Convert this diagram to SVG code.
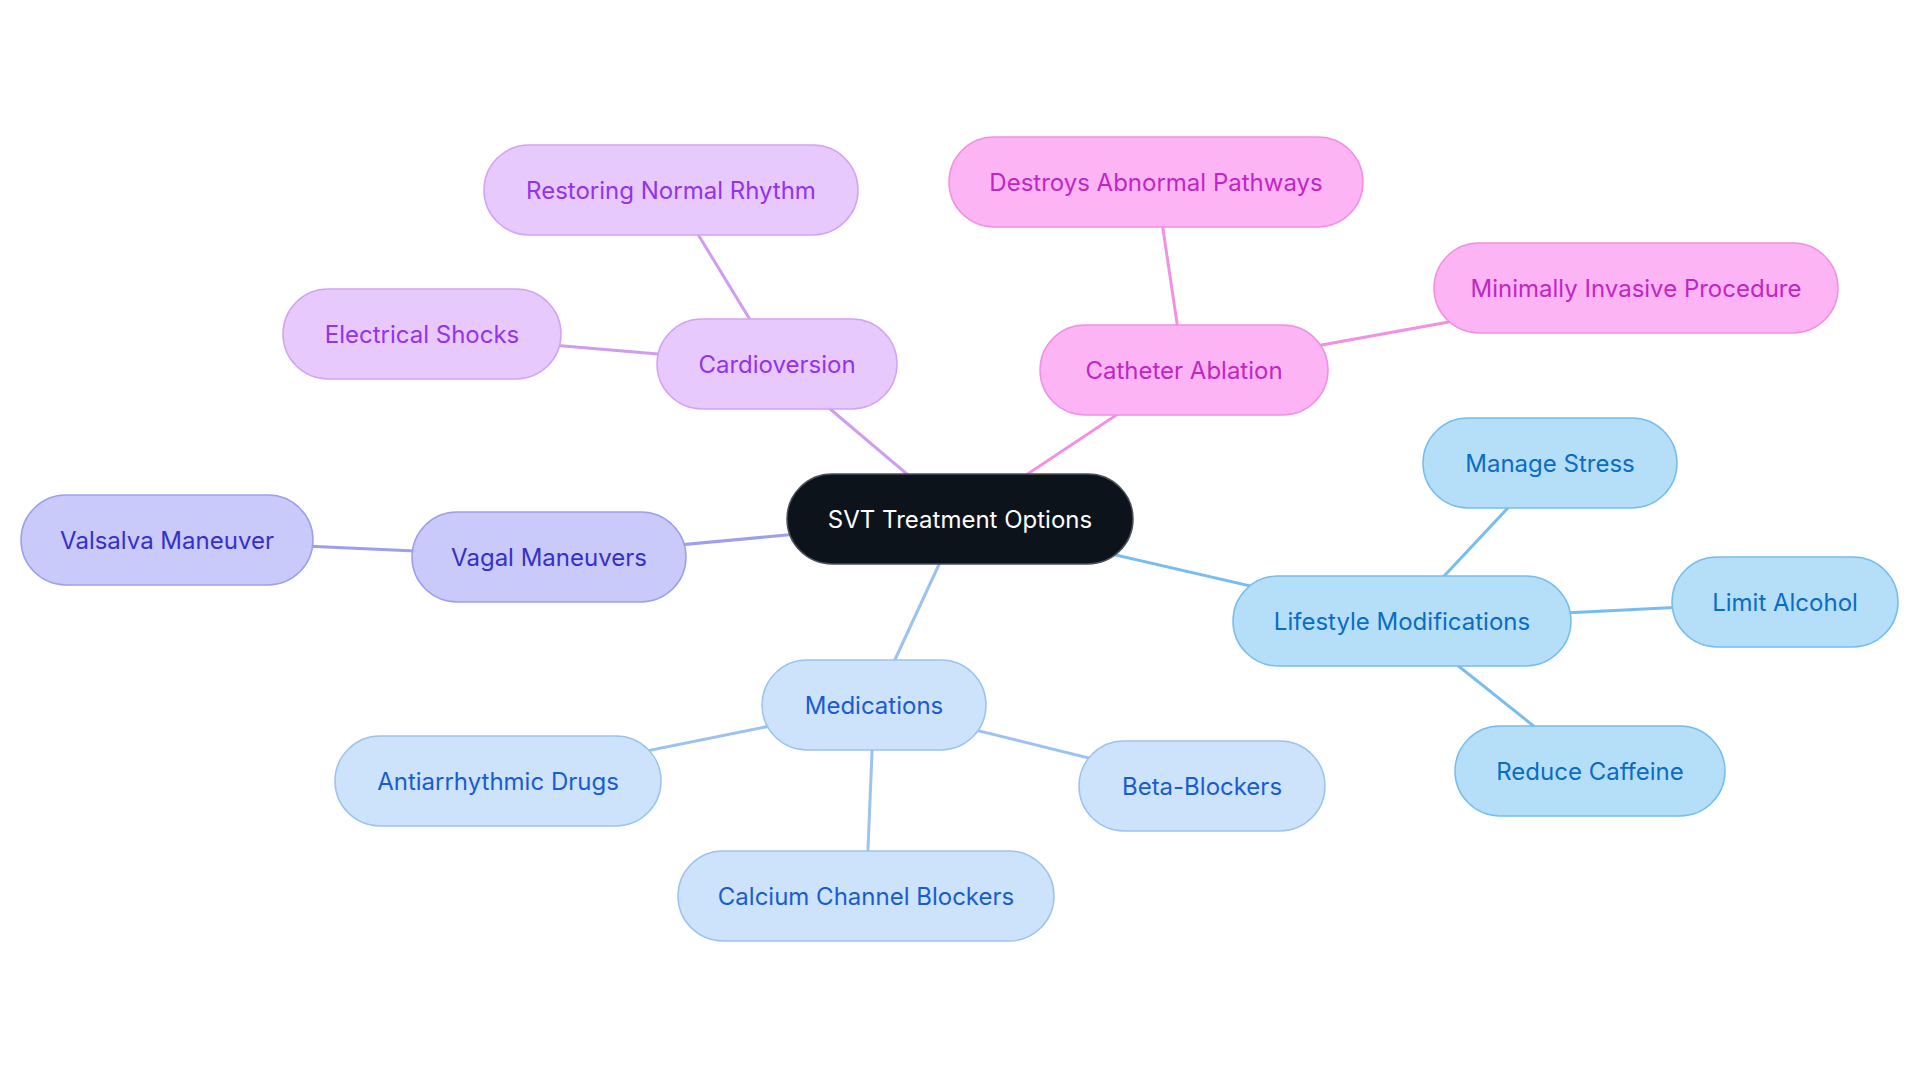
<svg xmlns="http://www.w3.org/2000/svg" width="1920" height="1083" viewBox="0 0 1920 1083">
<style>
text{font-family:Inter,"Noto Sans","Liberation Sans",sans-serif;font-size:24px;text-anchor:middle;dominant-baseline:central}
.e{stroke-width:3;fill:none}
.root rect{fill:#0d131b;stroke:#4a5058;stroke-width:1.5}
.root text{fill:#ffffff}
.pu rect{fill:#e8c9fd;stroke:#d3a2f4;stroke-width:1.5}
.pu text{fill:#9333ea}
.pk rect{fill:#fdb4f4;stroke:#f090e3;stroke-width:1.5}
.pk text{fill:#c026c3}
.in rect{fill:#c9caf9;stroke:#9d9ef0;stroke-width:1.5}
.in text{fill:#3730c8}
.bl rect{fill:#cde3fb;stroke:#9cc3f0;stroke-width:1.5}
.bl text{fill:#1a5ccf}
.sk rect{fill:#b5def9;stroke:#77bdee;stroke-width:1.5}
.sk text{fill:#0b6cc4}
</style>
<rect width="1920" height="1083" fill="#ffffff"/>
<g id="connectors">
<line class="e" stroke="#cf9cf2" x1="960" y1="519" x2="777" y2="364"/>
<line class="e" stroke="#cf9cf2" x1="777" y1="364" x2="671" y2="190"/>
<line class="e" stroke="#cf9cf2" x1="777" y1="364" x2="422" y2="334"/>
<line class="e" stroke="#f092e4" x1="960" y1="519" x2="1184" y2="370"/>
<line class="e" stroke="#f092e4" x1="1184" y1="370" x2="1156" y2="182"/>
<line class="e" stroke="#f092e4" x1="1184" y1="370" x2="1636" y2="288"/>
<line class="e" stroke="#9d9ef0" x1="960" y1="519" x2="549" y2="557"/>
<line class="e" stroke="#9d9ef0" x1="549" y1="557" x2="167" y2="540"/>
<line class="e" stroke="#9cc3f0" x1="960" y1="519" x2="874" y2="705"/>
<line class="e" stroke="#9cc3f0" x1="874" y1="705" x2="498" y2="781"/>
<line class="e" stroke="#9cc3f0" x1="874" y1="705" x2="866" y2="896"/>
<line class="e" stroke="#9cc3f0" x1="874" y1="705" x2="1202" y2="786"/>
<line class="e" stroke="#77bdee" x1="960" y1="519" x2="1402" y2="621"/>
<line class="e" stroke="#77bdee" x1="1402" y1="621" x2="1550" y2="463"/>
<line class="e" stroke="#77bdee" x1="1402" y1="621" x2="1785" y2="602"/>
<line class="e" stroke="#77bdee" x1="1402" y1="621" x2="1590" y2="771"/>
</g>
<g id="root" class="root"><rect x="787" y="474" width="346" height="90" rx="45"/><text x="960" y="519">SVT Treatment Options</text></g>
<g id="cardioversion" class="pu"><rect x="657" y="319" width="240" height="90" rx="45"/><text x="777" y="364">Cardioversion</text></g>
<g id="restoring" class="pu"><rect x="484" y="145" width="374" height="90" rx="45"/><text x="671" y="190">Restoring Normal Rhythm</text></g>
<g id="shocks" class="pu"><rect x="283" y="289" width="278" height="90" rx="45"/><text x="422" y="334">Electrical Shocks</text></g>
<g id="ablation" class="pk"><rect x="1040" y="325" width="288" height="90" rx="45"/><text x="1184" y="370">Catheter Ablation</text></g>
<g id="destroys" class="pk"><rect x="949" y="137" width="414" height="90" rx="45"/><text x="1156" y="182">Destroys Abnormal Pathways</text></g>
<g id="minimally" class="pk"><rect x="1434" y="243" width="404" height="90" rx="45"/><text x="1636" y="288">Minimally Invasive Procedure</text></g>
<g id="vagal" class="in"><rect x="412" y="512" width="274" height="90" rx="45"/><text x="549" y="557">Vagal Maneuvers</text></g>
<g id="valsalva" class="in"><rect x="21" y="495" width="292" height="90" rx="45"/><text x="167" y="540">Valsalva Maneuver</text></g>
<g id="medications" class="bl"><rect x="762" y="660" width="224" height="90" rx="45"/><text x="874" y="705">Medications</text></g>
<g id="antiarrhythmic" class="bl"><rect x="335" y="736" width="326" height="90" rx="45"/><text x="498" y="781">Antiarrhythmic Drugs</text></g>
<g id="calcium" class="bl"><rect x="678" y="851" width="376" height="90" rx="45"/><text x="866" y="896">Calcium Channel Blockers</text></g>
<g id="beta" class="bl"><rect x="1079" y="741" width="246" height="90" rx="45"/><text x="1202" y="786">Beta-Blockers</text></g>
<g id="lifestyle" class="sk"><rect x="1233" y="576" width="338" height="90" rx="45"/><text x="1402" y="621">Lifestyle Modifications</text></g>
<g id="stress" class="sk"><rect x="1423" y="418" width="254" height="90" rx="45"/><text x="1550" y="463">Manage Stress</text></g>
<g id="alcohol" class="sk"><rect x="1672" y="557" width="226" height="90" rx="45"/><text x="1785" y="602">Limit Alcohol</text></g>
<g id="caffeine" class="sk"><rect x="1455" y="726" width="270" height="90" rx="45"/><text x="1590" y="771">Reduce Caffeine</text></g>
</svg>
